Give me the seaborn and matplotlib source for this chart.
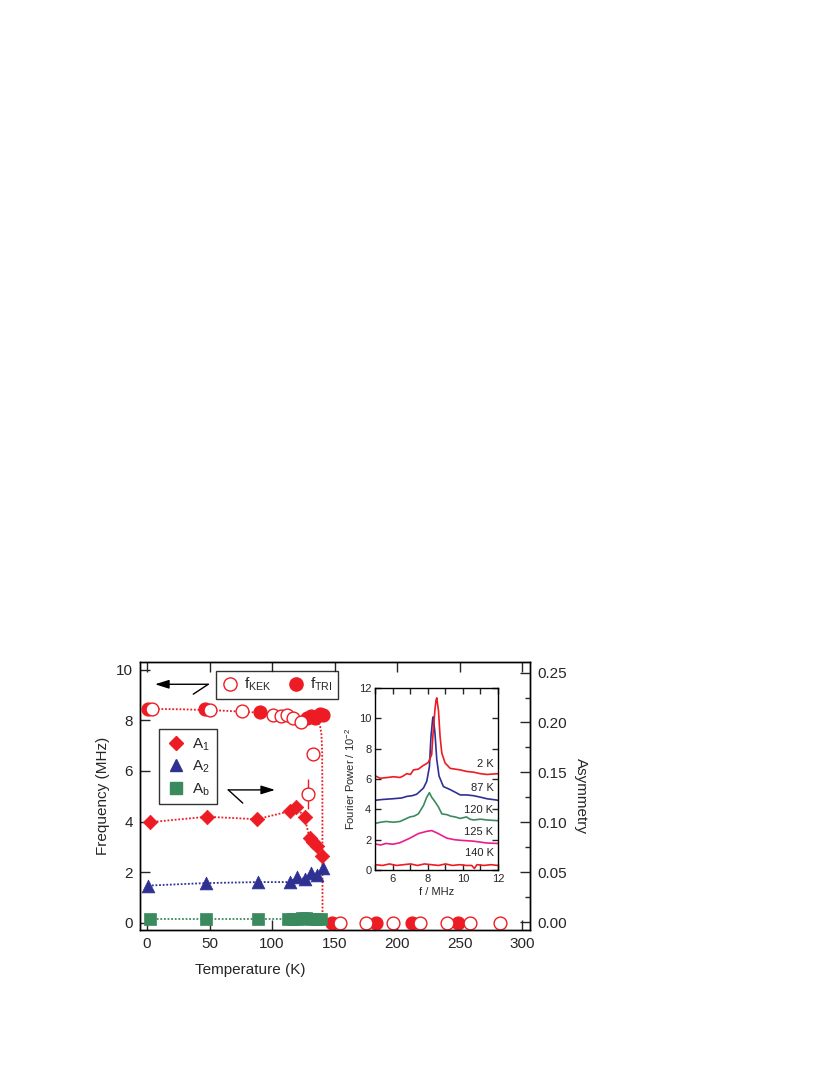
import matplotlib
matplotlib.use("Agg")
import matplotlib.pyplot as plt
from matplotlib.lines import Line2D
from matplotlib.ticker import MultipleLocator
import seaborn as sns

# ---- main panel data ----
# muon precession frequencies (left axis, MHz)
t_kek = [4, 50, 76, 101, 107, 112, 117, 123, 129, 133, 154, 175, 197, 218, 240, 258, 282]
f_kek = [8.43, 8.42, 8.35, 8.2, 8.15, 8.22, 8.1, 7.95, 5.09, 6.66, 0, 0, 0, 0, 0, 0, 0]
t_tri = [1, 46, 90, 128, 131, 134, 138, 141, 148, 183, 212, 249]
f_tri = [8.45, 8.43, 8.32, 8.1, 8.15, 8.1, 8.25, 8.2, 0, 0, 0, 0]

# fit curve through the frequencies
t_fit = [0, 30, 60, 90, 110, 125, 132, 136.5, 138.5, 139.5, 140.1, 140.3, 140.4]
f_fit = [8.45, 8.43, 8.38, 8.3, 8.22, 8.12, 8.05, 7.95, 7.75, 7.45, 6.8, 5.0, 0.0]

# asymmetries (right axis)
t_a1 = [2, 48, 88, 114, 119, 126, 130, 133, 136, 140]
a1 = [0.100, 0.1055, 0.103, 0.111, 0.115, 0.1055, 0.084, 0.080, 0.076, 0.066]
t_a2 = [1, 47, 89, 114, 120, 126, 131, 136, 140.5]
a2 = [0.0365, 0.039, 0.040, 0.040, 0.045, 0.043, 0.049, 0.047, 0.054]
t_ab = [2, 47, 89, 113, 117, 121, 124, 127, 131, 135, 139]
ab = [0.003, 0.003, 0.003, 0.003, 0.003, 0.003, 0.0045, 0.0045, 0.003, 0.003, 0.003]

# ---- inset: Fourier spectra ----
f_2k = [5.0, 5.26, 5.7, 6.02, 6.4, 6.59, 6.78, 7.0, 7.17, 7.45, 7.74, 7.9, 8.02, 8.21,
        8.3, 8.4, 8.46, 8.5, 8.6, 8.69, 8.79, 8.98, 9.27, 9.84, 10.2, 10.6, 11.0, 11.36, 12.0]
p_2k = [6.2, 6.05, 6.1, 6.15, 6.1, 6.2, 6.35, 6.3, 6.6, 6.65, 6.9, 7.0, 7.1, 7.6,
        9.2, 10.6, 11.2, 11.35, 10.5, 8.8, 7.7, 7.05, 6.7, 6.6, 6.5, 6.45, 6.35, 6.3, 6.35]
f_87k = [5.0, 5.4, 6.02, 6.5, 6.78, 7.1, 7.36, 7.74, 7.93, 8.08, 8.17, 8.27, 8.3, 8.4,
         8.5, 8.63, 8.88, 9.27, 9.6, 9.84, 10.2, 10.6, 11.0, 11.36, 12.0]
p_87k = [4.6, 4.65, 4.7, 4.75, 4.85, 4.9, 5.0, 5.4, 5.85, 6.8, 8.8, 10.0, 10.1, 9.0,
         7.3, 6.2, 5.5, 5.3, 5.1, 4.95, 4.95, 4.9, 4.8, 4.7, 4.6]
f_120k = [5.0, 5.3, 5.6, 6.0, 6.4, 6.97, 7.2, 7.45, 7.74, 7.93, 8.08, 8.21, 8.4, 8.6,
          8.79, 9.08, 9.3, 9.55, 9.84, 10.2, 10.4, 10.6, 11.0, 11.36, 12.0]
p_120k = [3.08, 3.15, 3.2, 3.15, 3.2, 3.5, 3.55, 3.7, 4.25, 4.8, 5.1, 4.8, 4.5, 4.15,
          3.7, 3.65, 3.55, 3.5, 3.4, 3.5, 3.35, 3.3, 3.35, 3.3, 3.25]
f_125k = [5.0, 5.3, 5.6, 6.0, 6.4, 6.97, 7.45, 7.93, 8.21, 8.5, 9.08, 9.5, 9.84, 10.6,
          11.36, 12.0]
p_125k = [1.71, 1.65, 1.75, 1.7, 1.8, 2.1, 2.4, 2.55, 2.6, 2.45, 2.1, 2.0, 1.96, 1.9,
          1.78, 1.75]
f_140k = [5.0, 5.4, 5.8, 6.2, 6.6, 7.0, 7.4, 7.8, 8.2, 8.6, 9.0, 9.4, 9.8, 10.2,
          10.5, 10.65, 10.8, 11.2, 11.6, 12.0]
p_140k = [0.35, 0.3, 0.4, 0.3, 0.35, 0.4, 0.3, 0.4, 0.35, 0.3, 0.4, 0.3, 0.35, 0.3,
          0.3, 0.1, 0.35, 0.3, 0.35, 0.3]
curve_labels = ["2 K", "87 K", "120 K", "125 K", "140 K"]
label_y = [7.0, 5.4, 3.95, 2.5, 1.1]

RED = "#ED1C24"
BLUE = "#2E3192"
GREEN = "#3B8A5E"
PINK = "#EC1C8C"
DOT = (0, (1, 1))

sns.set_theme(style="ticks")
plt.rcParams["font.family"] = ["Liberation Sans", "DejaVu Sans"]
plt.rcParams["mathtext.fontset"] = "custom"
plt.rcParams["mathtext.rm"] = "Liberation Sans"
plt.rcParams["mathtext.it"] = "Liberation Sans:italic"
plt.rcParams["axes.linewidth"] = 1.0

fig = plt.figure(figsize=(8.3, 10.75), dpi=100)
ax = fig.add_axes([0.1687, 0.1349, 0.4699, 0.2493])
ax2 = ax.twinx()

# frequency fit + data
sns.lineplot(x=t_fit, y=f_fit, ax=ax, color=RED, lw=1.3, linestyle=DOT, sort=False)
ax.errorbar([129], [5.09], yerr=[[0.6], [0.6]], fmt="none", ecolor=RED, elinewidth=1)
sns.scatterplot(x=t_tri, y=f_tri, ax=ax, marker="o", s=85, color=RED,
                edgecolor=RED, linewidth=1, zorder=3)
sns.scatterplot(x=t_kek, y=f_kek, ax=ax, marker="o", s=85, facecolor="white",
                edgecolor=RED, linewidth=1, zorder=4)

# asymmetries
for tt, aa, col, mk, sz in [(t_ab, ab, GREEN, "s", 80), (t_a2, a2, BLUE, "^", 85),
                            (t_a1, a1, RED, "D", 55)]:
    sns.lineplot(x=tt, y=aa, ax=ax2, color=col, lw=1.3, linestyle=DOT, sort=False)
    sns.scatterplot(x=tt, y=aa, ax=ax2, marker=mk, s=sz, color=col, edgecolor=col,
                    linewidth=0.5, zorder=3)

ax.set_xlim(-5.6, 306.4)
ax.set_ylim(-0.28, 10.3)
ax2.set_ylim(-0.008, 0.2606)
ax.set_xticks([0, 50, 100, 150, 200, 250, 300])
ax.set_yticks([0, 2, 4, 6, 8, 10])
ax2.set_yticks([0.0, 0.05, 0.10, 0.15, 0.20, 0.25])
ax2.set_yticklabels(["0.00", "0.05", "0.10", "0.15", "0.20", "0.25"])
ax2.yaxis.set_minor_locator(MultipleLocator(0.025))
ax.tick_params(axis="x", direction="in", top=True, length=7, width=1, labelsize=11, pad=5)
ax.tick_params(axis="y", direction="in", length=7, width=1, labelsize=11, pad=5)
ax2.tick_params(axis="y", which="major", direction="in", length=7, width=1, labelsize=11, pad=5)
ax2.tick_params(axis="y", which="minor", direction="in", length=3.5, width=1)
for a in (ax, ax2):
    for s in a.spines.values():
        s.set_visible(True)
        s.set_color("black")
        s.set_linewidth(1.0)

ax.set_xlabel("Temperature (K)", fontsize=11)
ax.xaxis.set_label_coords(0.282, -0.125)
ax.set_ylabel("Frequency (MHz)", fontsize=11)
ax.yaxis.set_label_coords(-0.078, 0.5)
ax2.set_ylabel("Asymmetry", fontsize=11, rotation=-90, va="center")
ax2.yaxis.set_label_coords(1.13, 0.5)

# legends
h1 = [Line2D([], [], ls="none", marker="o", ms=9.5, mfc="white", mec=RED, mew=1),
      Line2D([], [], ls="none", marker="o", ms=9.5, mfc=RED, mec=RED)]
leg1 = ax2.legend(h1, ["f$_\\mathrm{KEK}$", "f$_\\mathrm{TRI}$"], loc="upper left",
                  bbox_to_anchor=(0.194, 0.9675), ncol=2, frameon=True, fancybox=False,
                  edgecolor="black", fontsize=11, borderaxespad=0, handletextpad=0.3,
                  columnspacing=1.0, handlelength=1.2, borderpad=0.35)
leg1.get_frame().set_linewidth(1.0)
ax2.add_artist(leg1)
h2 = [Line2D([], [], ls="none", marker="D", ms=7, mfc=RED, mec=RED),
      Line2D([], [], ls="none", marker="^", ms=9, mfc=BLUE, mec=BLUE),
      Line2D([], [], ls="none", marker="s", ms=8.5, mfc=GREEN, mec=GREEN)]
leg2 = ax2.legend(h2, ["A$_\\mathrm{1}$", "A$_\\mathrm{2}$", "A$_\\mathrm{b}$"],
                  loc="upper left", bbox_to_anchor=(0.0495, 0.749), frameon=True,
                  fancybox=False, edgecolor="black", fontsize=11, borderaxespad=0,
                  handletextpad=0.4, handlelength=1.3, labelspacing=0.4, borderpad=0.45)
leg2.get_frame().set_linewidth(1.0)

# arrows pointing to the relevant axes
arr = dict(arrowstyle="-|>,head_length=0.7,head_width=0.22", color="black", lw=1,
           shrinkA=0, shrinkB=0)
ax.annotate("", xy=(6.4, 9.42), xytext=(49, 9.42), arrowprops=arr)
ax.annotate("", xy=(37, 9.03), xytext=(49, 9.42),
            arrowprops=dict(arrowstyle="-", color="black", lw=1, shrinkA=0, shrinkB=0))
ax.annotate("", xy=(102.4, 5.25), xytext=(65, 5.25), arrowprops=arr)
ax.annotate("", xy=(76.6, 4.73), xytext=(65, 5.25),
            arrowprops=dict(arrowstyle="-", color="black", lw=1, shrinkA=0, shrinkB=0))

# inset
axi = fig.add_axes([0.4524, 0.1907, 0.1476, 0.1693], zorder=5)
axi.set_facecolor("white")
for ff, pp, col in [(f_140k, p_140k, RED), (f_125k, p_125k, PINK), (f_120k, p_120k, GREEN),
                    (f_87k, p_87k, BLUE), (f_2k, p_2k, RED)]:
    sns.lineplot(x=ff, y=pp, ax=axi, color=col, lw=1.2, sort=False)
for lab, yy in zip(curve_labels, label_y):
    axi.text(11.75, yy, lab, ha="right", va="center", fontsize=8, color="#222222")
axi.set_xlim(5, 12)
axi.set_ylim(0, 12)
axi.set_xticks([6, 8, 10, 12])
axi.xaxis.set_minor_locator(MultipleLocator(1))
axi.set_yticks([0, 2, 4, 6, 8, 10, 12])
axi.tick_params(which="both", direction="in", top=True, right=True, length=4, width=1,
                labelsize=8, pad=3)
for s in axi.spines.values():
    s.set_visible(True)
    s.set_color("black")
    s.set_linewidth(1.0)
axi.set_xlabel("f / MHz", fontsize=8, labelpad=2)
axi.set_ylabel("Fourier Power / 10$^{-2}$", fontsize=8, labelpad=1)

fig.savefig("out.png", dpi=100)
